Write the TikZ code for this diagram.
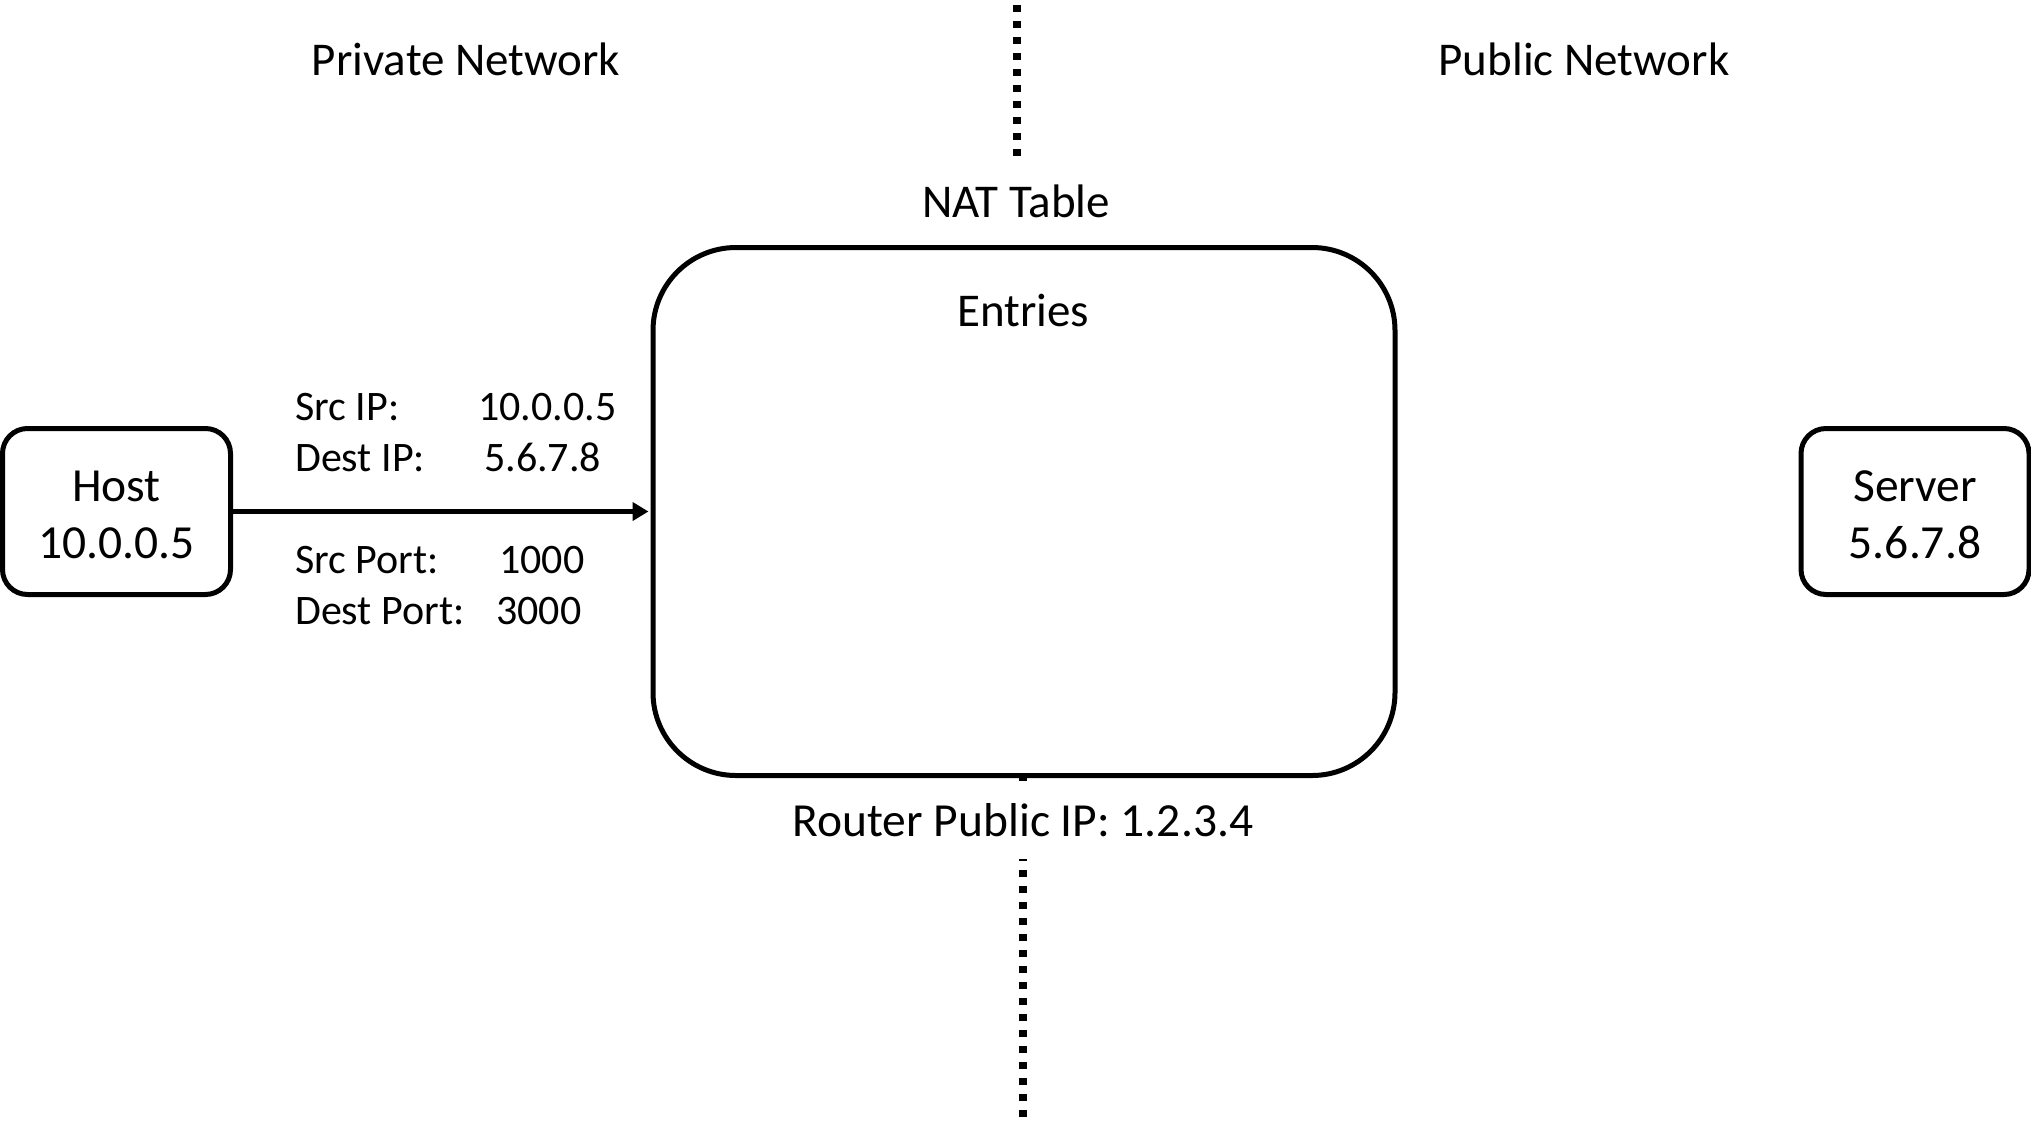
\documentclass[tikz,border=0pt]{standalone}
\usepackage{fontspec}
\setmainfont{Carlito}
\usetikzlibrary{arrows.meta}
\begin{document}
\begin{tikzpicture}[x=1pt,y=-1pt,
  big/.style={font=\fontsize{47}{57}\selectfont, inner sep=0pt, anchor=base},
  lbl/.style={font=\fontsize{42}{50}\selectfont, inner sep=0pt, anchor=base west},
  endbox/.style={draw, line width=5pt, rounded corners=25pt, minimum width=228pt, minimum height=166pt, align=center, font=\fontsize{47.5}{57}\selectfont, inner sep=0pt},
  dots/.style={line width=7.5pt, dash pattern=on 7pt off 9pt}]
\useasboundingbox[fill=white] (0,0) rectangle (2031,1120);
% boundary lines
\coordinate (ta) at (1017,5);
\coordinate (tb) at (1017,160);
\draw[dots] (ta) -- (tb);
\coordinate (ba) at (1023,774);
\coordinate (bb) at (1023,1125);
\draw[dots] (ba) -- (bb);
% headings
\node[big] (priv) at (466,75) {Private Network};
\node[big] (pub) at (1584,75) {Public Network};
\node[big] (nattitle) at (1016,217) {NAT Table};
% NAT box
\node[draw, line width=5pt, rounded corners=83pt, minimum width=742pt, minimum height=528pt, inner sep=0pt, fill=white] (nat) at (1024,511.5) {};
\node[big] (entries) at (1023,326) {Entries};
\node[font=\fontsize{47.5}{57}\selectfont, fill=white, text height=36pt, text depth=10pt, inner xsep=4pt, inner ysep=13pt, anchor=base] (router) at (1023,836) {Router Public IP: 1.2.3.4};
% end hosts
\node[endbox] (host) at (116.5,511.5) {\rule{0pt}{37pt}Host\\10.0.0.5};
\node[endbox] (server) at (1915,511.5) {\rule{0pt}{37pt}Server\\5.6.7.8};
% packet
\draw[line width=4.3pt, shorten >=2pt, -{Triangle[length=16pt,width=18pt]}] (host.east) -- (nat.west);
\node[lbl] (srcip) at (295,420) {Src IP:};
\node[lbl] (srcipv) at (478,420) {10.0.0.5};
\node[lbl] (dstip) at (295,471) {Dest IP:};
\node[lbl] (dstipv) at (484,471) {5.6.7.8};
\node[lbl] (srcport) at (295,573) {Src Port:};
\node[lbl] (srcportv) at (499,573) {1000};
\node[lbl] (dstport) at (295,624) {Dest Port:};
\node[lbl] (dstportv) at (496,624) {3000};
\end{tikzpicture}
\end{document}
